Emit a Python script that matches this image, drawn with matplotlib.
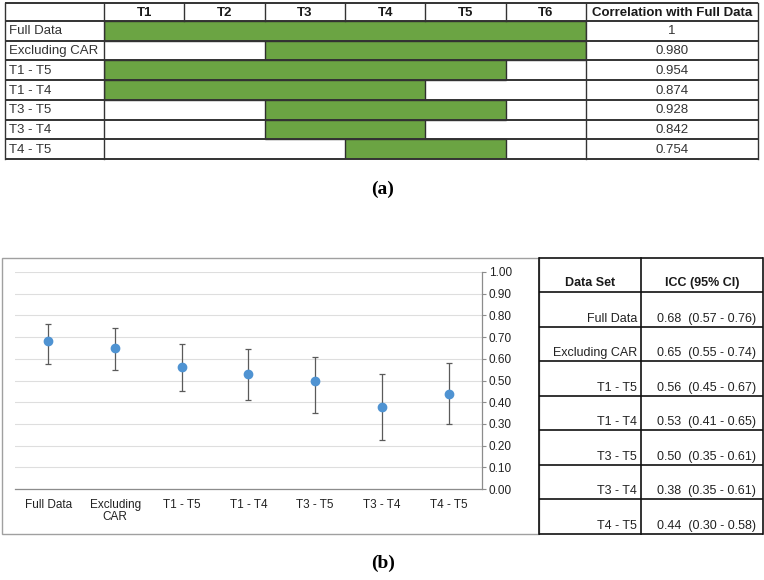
import matplotlib
matplotlib.use('Agg')
import matplotlib.pyplot as plt
from matplotlib.patches import Rectangle

plt.rcParams['font.family'] = ['Liberation Sans', 'DejaVu Sans']

# ---------------- data ----------------
periods = ['T1', 'T2', 'T3', 'T4', 'T5', 'T6']
subsets = ['Full Data', 'Excluding CAR', 'T1 - T5', 'T1 - T4', 'T3 - T5', 'T3 - T4', 'T4 - T5']
span_start = [1, 3, 1, 1, 3, 3, 4]
span_end = [6, 6, 5, 4, 5, 4, 5]
correlation = ['1', '0.980', '0.954', '0.874', '0.928', '0.842', '0.754']

categories = ['Full Data', 'Excluding\nCAR', 'T1 - T5', 'T1 - T4', 'T3 - T5', 'T3 - T4', 'T4 - T5']
icc = [0.68, 0.65, 0.56, 0.53, 0.50, 0.38, 0.44]
ci_low_plot = [0.575, 0.55, 0.45, 0.41, 0.35, 0.225, 0.30]
ci_high_plot = [0.76, 0.74, 0.67, 0.645, 0.61, 0.53, 0.58]
ci_low_table = [0.57, 0.55, 0.45, 0.41, 0.35, 0.35, 0.30]
ci_high_table = [0.76, 0.74, 0.67, 0.65, 0.61, 0.61, 0.58]
yticks = [0.0, 0.1, 0.2, 0.3, 0.4, 0.5, 0.6, 0.7, 0.8, 0.9, 1.0]

# ---------------- figure ----------------
W, H = 764, 580
fig = plt.figure(figsize=(W / 100, H / 100), dpi=100)


def fr(x0, y0, x1, y1):
    return [x0 / W, 1 - y1 / H, (x1 - x0) / W, (y1 - y0) / H]


GREEN = '#6ba443'
LINE = '#333333'

# ---- top table: green spans ----
tx0, tlab, tT6, tx1 = 5, 104, 586, 758
ty0, tyh, ty1 = 3, 21, 159
nrow = len(subsets)
rh = (ty1 - tyh) / nrow
colw = (tT6 - tlab) / len(periods)

axg = fig.add_axes(fr(tlab, tyh, tT6, ty1))
axg.set_xlim(0.5, len(periods) + 0.5)
axg.set_ylim(nrow - 0.5, -0.5)
axg.barh(range(nrow), [e - s + 1 for s, e in zip(span_start, span_end)],
         left=[s - 0.5 for s in span_start], height=1.0,
         color=GREEN, edgecolor='#2e2e2e', linewidth=1.0)
axg.axis('off')

# ---- overlay for table lines & texts ----
ov = fig.add_axes([0, 0, 1, 1], zorder=5)
ov.set_xlim(0, W)
ov.set_ylim(H, 0)
ov.axis('off')
ov.patch.set_alpha(0)

# top table lines
for k in range(nrow + 2):
    y = ty0 if k == 0 else tyh + (k - 1) * rh
    ov.plot([tx0, tx1], [y, y], color=LINE, lw=1.4, solid_capstyle='butt')
for x in [tx0, tlab, tT6, tx1]:
    ov.plot([x, x], [ty0, ty1], color=LINE, lw=1.0)
for k in range(1, len(periods)):
    x = tlab + k * colw
    ov.plot([x, x], [ty0, tyh], color=LINE, lw=1.0)

for k, p in enumerate(periods):
    ov.text(tlab + (k + 0.5) * colw, (ty0 + tyh) / 2 + 0.5, p, ha='center', va='center',
            fontsize=9.5, fontweight='bold', color='#1a1a1a')
ov.text((tT6 + tx1) / 2, (ty0 + tyh) / 2 + 0.5, 'Correlation with Full Data', ha='center',
        va='center', fontsize=9.5, fontweight='bold', color='#1a1a1a')
for i, (s, c) in enumerate(zip(subsets, correlation)):
    yc = tyh + (i + 0.5) * rh + 0.5
    ov.text(tx0 + 4, yc, s, ha='left', va='center', fontsize=9.5, color='#333333')
    ov.text((tT6 + tx1) / 2, yc, c, ha='center', va='center', fontsize=9.5, color='#333333')

ov.text(383, 189, '(a)', ha='center', va='center', fontsize=14, fontweight='bold',
        family=['Liberation Serif', 'DejaVu Serif'])
ov.text(383, 563, '(b)', ha='center', va='center', fontsize=14, fontweight='bold',
        family=['Liberation Serif', 'DejaVu Serif'])

# chart box
ov.add_patch(Rectangle((2, 258), 539 - 2, 534 - 258, fill=False, edgecolor='#a0a0a0', lw=1.0))

# right table
rx0, rx_mid, rx1 = 539, 641, 763
ry0, ryh, ry1 = 258, 292, 534
rrh = (ry1 - ryh) / nrow
for k in range(nrow + 2):
    y = ry0 if k == 0 else ryh + (k - 1) * rrh
    ov.plot([rx0, rx1], [y, y], color='#111111', lw=1.2, solid_capstyle='butt')
for x in [rx0, rx_mid, rx1]:
    ov.plot([x, x], [ry0, ry1], color='#111111', lw=1.2)
ov.text((rx0 + rx_mid) / 2, 283, 'Data Set', ha='center', va='center', fontsize=9,
        fontweight='bold', color='#1a1a1a')
ov.text((rx_mid + rx1) / 2, 283, 'ICC (95% CI)', ha='center', va='center', fontsize=9,
        fontweight='bold', color='#1a1a1a')
for i, s in enumerate(subsets):
    yb = ryh + (i + 1) * rrh - 8
    ov.text(rx_mid - 4, yb, s, ha='right', va='center', fontsize=9, color='#222222')
    ov.text(rx_mid + 16, yb, f'{icc[i]:.2f}  ({ci_low_table[i]:.2f} - {ci_high_table[i]:.2f})',
            ha='left', va='center', fontsize=9, color='#222222')

# ---- chart ----
ax = fig.add_axes(fr(15, 272, 482, 489), zorder=2)
x = list(range(len(categories)))
ax.set_xlim(-0.5, len(categories) - 0.5)
ax.set_ylim(0, 1)
ax.set_yticks(yticks)
ax.set_yticklabels([f'{v:.2f}' for v in yticks])
ax.yaxis.tick_right()
ax.set_xticks(x)
ax.set_xticklabels(categories, fontsize=8.5, color='#222222', linespacing=1.0)
ax.tick_params(axis='x', length=0, pad=7)
ax.tick_params(axis='y', direction='out', length=3, width=0.8, color='#8c8c8c',
               labelsize=8.5, labelcolor='#222222', pad=2)
for sp in ['top', 'left']:
    ax.spines[sp].set_visible(False)
for sp in ['bottom', 'right']:
    ax.spines[sp].set_color('#8c8c8c')
    ax.spines[sp].set_linewidth(0.9)
ax.yaxis.grid(True, color='#dedede', lw=0.8)
ax.set_axisbelow(True)
yerr = [[v - l for v, l in zip(icc, ci_low_plot)], [h - v for v, h in zip(icc, ci_high_plot)]]
ax.errorbar(x, icc, yerr=yerr, fmt='o', color='#4f93d2', markersize=6,
            ecolor='#5a5a5a', elinewidth=0.9, capsize=2.5, capthick=0.9, zorder=3)

fig.savefig('out.png', dpi=100)
